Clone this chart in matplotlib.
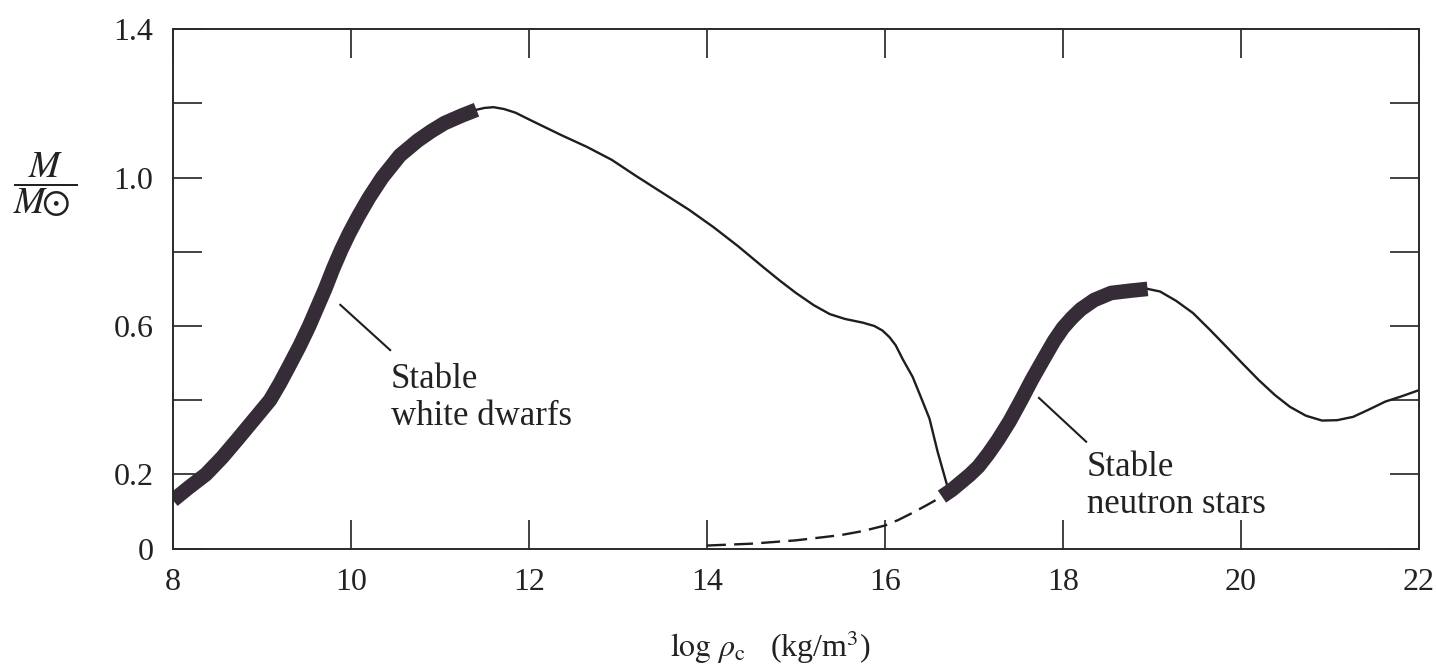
import matplotlib
matplotlib.use("Agg")
import matplotlib.pyplot as plt

plt.rcParams['font.family'] = ['Liberation Serif', 'DejaVu Serif']
plt.rcParams['mathtext.fontset'] = 'stix'

# stable white dwarf branch (thick)
wd_x = [8.0, 8.18, 8.37, 8.55, 8.72, 8.9, 9.09, 9.2, 9.3, 9.42, 9.53, 9.62, 9.71, 9.80,
        9.89, 9.98, 10.08, 10.2, 10.35, 10.55, 10.75, 10.9, 11.05, 11.25, 11.41]
wd_y = [0.13, 0.165, 0.20, 0.245, 0.293, 0.345, 0.40, 0.445, 0.49, 0.545, 0.60, 0.65, 0.70, 0.755,
        0.805, 0.85, 0.895, 0.945, 1.00, 1.06, 1.10, 1.125, 1.147, 1.168, 1.183]

# unstable branch between the two stable ones (thin)
mid_x = [11.41, 11.5, 11.6, 11.72, 11.85, 12.0, 12.36, 12.65, 12.93, 13.2, 13.5, 13.8, 14.07,
         14.35, 14.63, 14.82, 15.0, 15.2, 15.38, 15.55, 15.75, 15.88, 15.97, 16.05, 16.12,
         16.2, 16.31, 16.4, 16.5, 16.59, 16.71]
mid_y = [1.183, 1.188, 1.19, 1.185, 1.175, 1.157, 1.115, 1.083, 1.048, 1.005, 0.959, 0.913, 0.867,
         0.815, 0.759, 0.722, 0.689, 0.656, 0.632, 0.619, 0.609, 0.60, 0.588, 0.57, 0.548,
         0.51, 0.463, 0.41, 0.35, 0.262, 0.16]

# stable neutron star branch (thick)
ns_x = [16.64, 16.75, 16.85, 16.95, 17.05, 17.16, 17.27, 17.4, 17.53, 17.65, 17.78, 17.9,
        18.0, 18.1, 18.2, 18.35, 18.54, 18.75, 18.95]
ns_y = [0.14, 0.158, 0.178, 0.198, 0.221, 0.255, 0.293, 0.343, 0.40, 0.455, 0.51, 0.56,
        0.595, 0.622, 0.645, 0.67, 0.689, 0.695, 0.70]

# beyond the neutron star maximum (thin)
tail_x = [18.95, 19.09, 19.27, 19.46, 19.65, 19.84, 20.02, 20.2, 20.38, 20.55, 20.73, 20.91,
          21.08, 21.26, 21.44, 21.62, 21.8, 22.0]
tail_y = [0.70, 0.693, 0.668, 0.635, 0.59, 0.543, 0.498, 0.454, 0.414, 0.382, 0.358, 0.345,
          0.346, 0.355, 0.375, 0.396, 0.41, 0.427]

# dashed low-mass branch
low_x = [14.0, 14.5, 15.0, 15.5, 15.75, 16.0, 16.15, 16.3, 16.47, 16.64]
low_y = [0.008, 0.013, 0.022, 0.036, 0.047, 0.062, 0.077, 0.095, 0.117, 0.14]

xticks = [8, 10, 12, 14, 16, 18, 20, 22]
yticks = [0, 0.2, 0.4, 0.6, 0.8, 1.0, 1.2, 1.4]
ylabels = ['0', '0.2', '', '0.6', '', '1.0', '', '1.4']

thick_col = '#352c38'
thin_col = '#1e1e1e'

fig = plt.figure(figsize=(14.36, 6.7), dpi=100)
ax = fig.add_axes([173 / 1436, 1 - 548.5 / 670, 1246 / 1436, 519.2 / 670])

ax.plot(mid_x, mid_y, color=thin_col, lw=1.7)
ax.plot(tail_x, tail_y, color=thin_col, lw=1.7)
ax.plot(low_x, low_y, color=thin_col, lw=1.7, dashes=(8, 3.5))
ax.plot(wd_x, wd_y, color=thick_col, lw=10.5, solid_capstyle='butt', solid_joinstyle='round')
ax.plot(ns_x, ns_y, color=thick_col, lw=10.5, solid_capstyle='butt', solid_joinstyle='round')

# labels with leader lines
ax.plot([9.88, 10.44], [0.657, 0.535], color=thin_col, lw=1.5)
ax.text(10.45, 0.50, 'Stable\nwhite dwarfs', fontsize=25, ha='left', va='top',
        linespacing=1.15, color='#222222')
ax.plot([17.73, 18.26], [0.406, 0.288], color=thin_col, lw=1.5)
ax.text(18.27, 0.262, 'Stable\nneutron stars', fontsize=25, ha='left', va='top',
        linespacing=1.15, color='#222222')

ax.set_xlim(8, 22)
ax.set_ylim(0, 1.4)
ax.set_xticks(xticks)
ax.set_yticks(yticks)
ax.set_yticklabels(ylabels)
ax.tick_params(direction='in', length=21, width=1.2, labelsize=23, pad=14,
               top=True, right=True, colors='#222222')
for s in ax.spines.values():
    s.set_linewidth(1.4)
    s.set_color('#2a2a2a')

fig.text(45 / 1436, 1 - 185 / 670, r'$\dfrac{M}{M\!\!\odot}$', fontsize=27,
         ha='center', va='center', color='#222222')
fig.text(770 / 1436, 1 - 647 / 670, r'$\log\,\rho_{\rm c}$   (kg/m$^3$)',
         fontsize=23, ha='center', va='center', color='#222222')

fig.savefig('out.png', dpi=100)
